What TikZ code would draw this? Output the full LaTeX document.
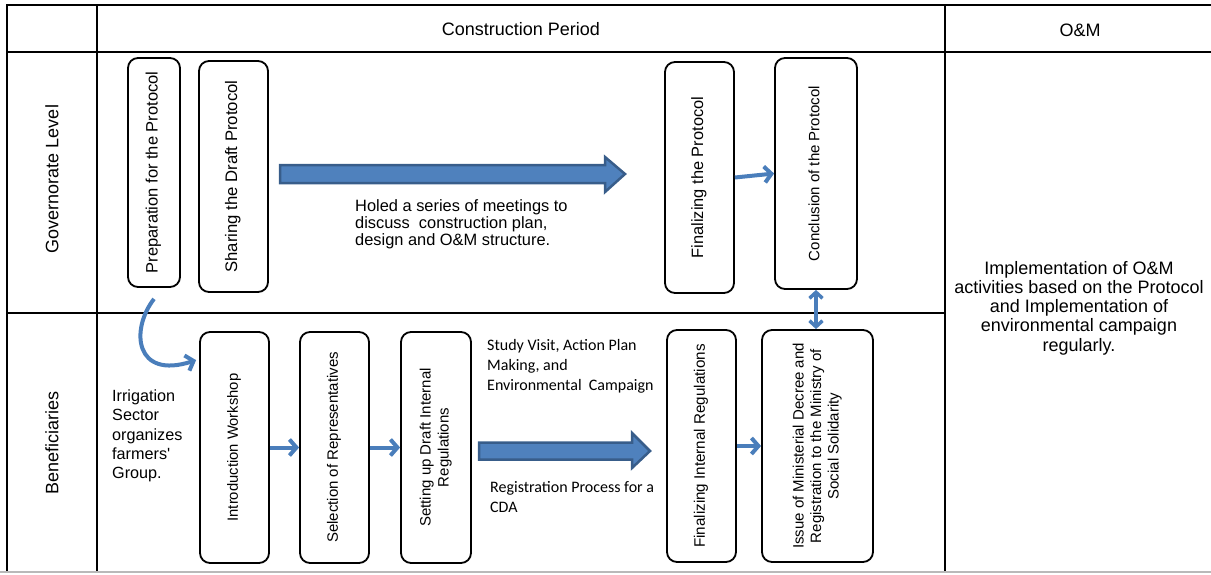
\documentclass[tikz,border=0pt]{standalone}
\usepackage{fontspec}
\setmainfont{Liberation Sans}
\newfontfamily\calibrifont{Carlito}
\usetikzlibrary{arrows.meta,calc}
\definecolor{arrowblue}{HTML}{4A7EBB}
\definecolor{fatfill}{HTML}{4F81BD}
\definecolor{fatborder}{HTML}{385D8A}
\newcommand{\boxtext}[3]{\rotatebox{90}{\fontsize{#1}{#2}\selectfont\begin{tabular}{@{}c@{}}#3\end{tabular}}}
\begin{document}
\begin{tikzpicture}[x=1pt,y=-1pt,
  grid/.style={line width=2pt, black},
  box/.style={draw, line width=1.8pt, rounded corners=10pt, inner sep=0pt},
  thinarrow/.style={draw=arrowblue, line width=4pt, -{Straight Barb[length=7pt,width=16pt]}},
  botharrow/.style={draw=arrowblue, line width=3.5pt, {Straight Barb[length=6pt,width=13pt]}-{Straight Barb[length=6pt,width=13pt]}},
  fatarrow/.style={fill=fatfill, draw=fatborder, line width=2.5pt, line join=miter},
  head/.style={font=\fontsize{18}{21}\selectfont, inner sep=0pt},
  note/.style={font=\fontsize{16.4}{17}\selectfont, align=left, inner sep=0pt, anchor=west},
  cnote/.style={font=\calibrifont\fontsize{16}{20}\selectfont, align=left, inner sep=0pt, anchor=west},
]
\useasboundingbox (0,0) rectangle (1211,574);

% table grid
\draw[grid] (7,5) -- (1211,5);
\draw[grid] (7,52) -- (1211,52);
\draw[grid] (7,313) -- (945,313);
\draw[grid] (7,4) -- (7,572);
\draw[grid] (97,4) -- (97,572);
\draw[grid] (945,4) -- (945,572);
\draw[gray!55, line width=1.5pt] (0,572) -- (1211,572);

% headings
\node[head] (hcp) at (521,29) {Construction Period};
\node[head] (hom) at (1080,30) {O\&M};
\node[head, rotate=90] (hgov) at (52,179) {Governorate Level};
\node[head, rotate=90] (hben) at (52,443) {Beneficiaries};

% governorate boxes
\node[box, minimum width=52pt, minimum height=229pt] (prep) at (154,172.5)
  {\boxtext{16.5}{18}{Preparation for the Protocol}};
\node[box, minimum width=69pt, minimum height=231pt] (share) at (233.5,176.5)
  {\boxtext{16.7}{18}{Sharing the Draft Protocol}};
\node[box, minimum width=69pt, minimum height=231pt] (finp) at (699.5,177.5)
  {\boxtext{16.4}{18}{Finalizing the Protocol}};
\node[box, minimum width=82pt, minimum height=231pt] (conc) at (816,173.5)
  {\boxtext{15}{17}{Conclusion of the Protocol}};

% beneficiaries boxes
\node[box, minimum width=69pt, minimum height=231pt] (intro) at (234.5,447.5)
  {\boxtext{14.8}{17}{Introduction Workshop}};
\node[box, minimum width=69pt, minimum height=231pt] (sel) at (334.5,447.5)
  {\boxtext{15}{17}{Selection of Representatives}};
\node[box, minimum width=70pt, minimum height=231pt] (draft) at (436,447.5)
  {\boxtext{15}{18}{Setting up Draft Internal\\Regulations}};
\node[box, minimum width=69pt, minimum height=232pt] (fini) at (701.5,446)
  {\boxtext{15.2}{17}{Finalizing Internal Regulations}};
\node[box, minimum width=111pt, minimum height=232pt] (issue) at (817.5,446)
  {\boxtext{15}{17.5}{Issue of Ministerial Decree and\\Registration to the Ministry of\\Social Solidarity}};

% O&M text
\node[font=\fontsize{18}{19.2}\selectfont, align=center, inner sep=0pt] (omtext) at (1079,308)
  {Implementation of O\&M\\activities based on the Protocol\\and Implementation of\\environmental campaign\\regularly.};

% notes
\node[note] (meet) at (355,224) {Holed a series of meetings to\\discuss\ \ construction plan,\\design and O\&M structure.};
\node[note, font=\fontsize{16.2}{19.2}\selectfont] (irr) at (112,436) {Irrigation\\Sector\\organizes\\farmers\textquotesingle\\Group.};
\node[cnote] (study) at (487,366) {Study Visit, Action Plan\\Making, and\\Environmental\ \ Campaign};
\node[cnote] (regp) at (490,497) {Registration Process for a\\CDA};

% fat arrows
\coordinate (g1) at (280,174);
\coordinate (g2) at (625,174);
\draw[fatarrow] ($(g1)+(0,-9)$) -- ($(g2)+(-20,-9)$) -- ($(g2)+(-20,-17)$) -- (g2)
  -- ($(g2)+(-20,18)$) -- ($(g2)+(-20,9)$) -- ($(g1)+(0,9)$) -- cycle;
\coordinate (b1) at (479,451);
\coordinate (b2) at (650,451);
\draw[fatarrow] ($(b1)+(0,-8.5)$) -- ($(b2)+(-18,-8.5)$) -- ($(b2)+(-18,-18)$) -- (b2)
  -- ($(b2)+(-18,17)$) -- ($(b2)+(-18,8.5)$) -- ($(b1)+(0,8.5)$) -- cycle;

% thin arrows
\draw[thinarrow] (finp.east) -- (conc.west);
\draw[thinarrow] (intro.east) -- (sel.west);
\draw[thinarrow] (sel.east) -- (draft.west);
\draw[thinarrow] (fini.east) -- (issue.west);
\draw[botharrow] (conc.south) -- (conc.south |- issue.north);
\draw[thinarrow] ([yshift=-11pt]prep.south) .. controls (130,330) and (135,380) .. ([shift={(-3,29)}]intro.north west);
\end{tikzpicture}
\end{document}
